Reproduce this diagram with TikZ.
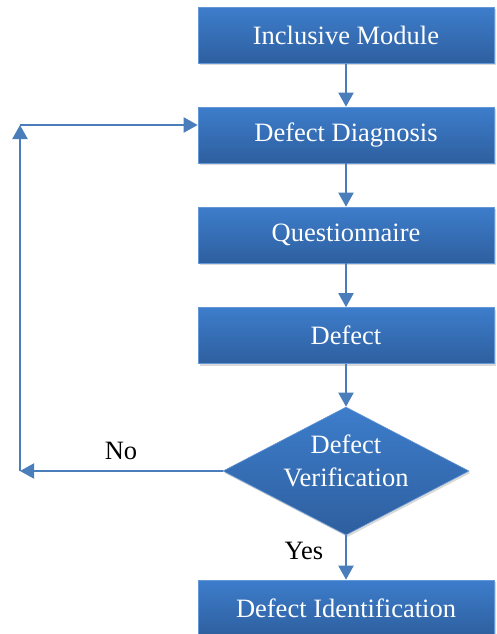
\documentclass[tikz,border=0pt]{standalone}
\usepackage{fontspec}
\setmainfont{Liberation Serif}
\usetikzlibrary{arrows.meta, positioning, shapes.geometric, shadows}
\definecolor{boxtop}{HTML}{3D7DCB}
\definecolor{boxbot}{HTML}{2E5F9F}
\definecolor{arrowblue}{HTML}{4A7EBB}

\tikzset{
	stepbox/.style={rectangle, draw=boxtop!80!white, line width=0.6pt,
		top color=boxtop, bottom color=boxbot, text=white,
		minimum width=296pt, minimum height=56pt, inner sep=0pt,
		font=\fontsize{26.5}{33}\selectfont,
		drop shadow={opacity=0.3, shadow xshift=1.5pt, shadow yshift=-2pt}},
	checkbox/.style={diamond, draw=boxtop!80!white, line width=0.6pt,
		top color=boxtop, bottom color=boxbot,
		minimum width=246pt, minimum height=128pt, inner sep=0pt, aspect=1.9,
		drop shadow={opacity=0.3, shadow xshift=1.5pt, shadow yshift=-2pt}},
	checktext/.style={text=white, align=center, inner sep=0pt,
		font=\fontsize{26.5}{33}\selectfont},
	flow/.style={draw=arrowblue, line width=2pt, -{Triangle[width=15pt, length=14pt]}},
	answer/.style={font=\fontsize{26.5}{33}\selectfont}
}

\begin{document}
\begin{tikzpicture}[x=1pt, y=-1pt]
	
	% picture frame
	\useasboundingbox (0, 0) rectangle (496, 634);
	
	% main steps
	\node[stepbox] (incl) at (346, 35.5) {Inclusive Module};
	\node[stepbox] (diag) at (346, 135) {Defect Diagnosis};
	\node[stepbox] (quest) at (346, 235) {Questionnaire};
	\node[stepbox] (dfct) at (346, 335.5) {Defect};
	
	% decision
	\node[checkbox] (verif) at (346, 471) {};
	\node[checktext] (veriftext) at (346, 461) {Defect\\Verification};
	
	% result
	\node[stepbox] (ident) at (346, 608) {Defect Identification};
	
	% arrows down
	\draw[flow] (incl) -- (diag);
	\draw[flow] (diag) -- (quest);
	\draw[flow] (quest) -- (dfct);
	\draw[flow] (dfct) -- (verif);
	\draw[flow] (verif) -- (ident);
	
	% loop back on No
	\coordinate (back) at (20, 471);
	\coordinate (up) at (20, 125);
	\draw[flow] (verif.west) -- (back);
	\draw[flow] (back) -- (up);
	\draw[flow] (up) -- (up -| diag.west);
	
	% answers
	\node[answer] (no) at (121, 451) {No};
	\node[answer] (yes) at (304, 551) {Yes};
	
\end{tikzpicture}
\end{document}
